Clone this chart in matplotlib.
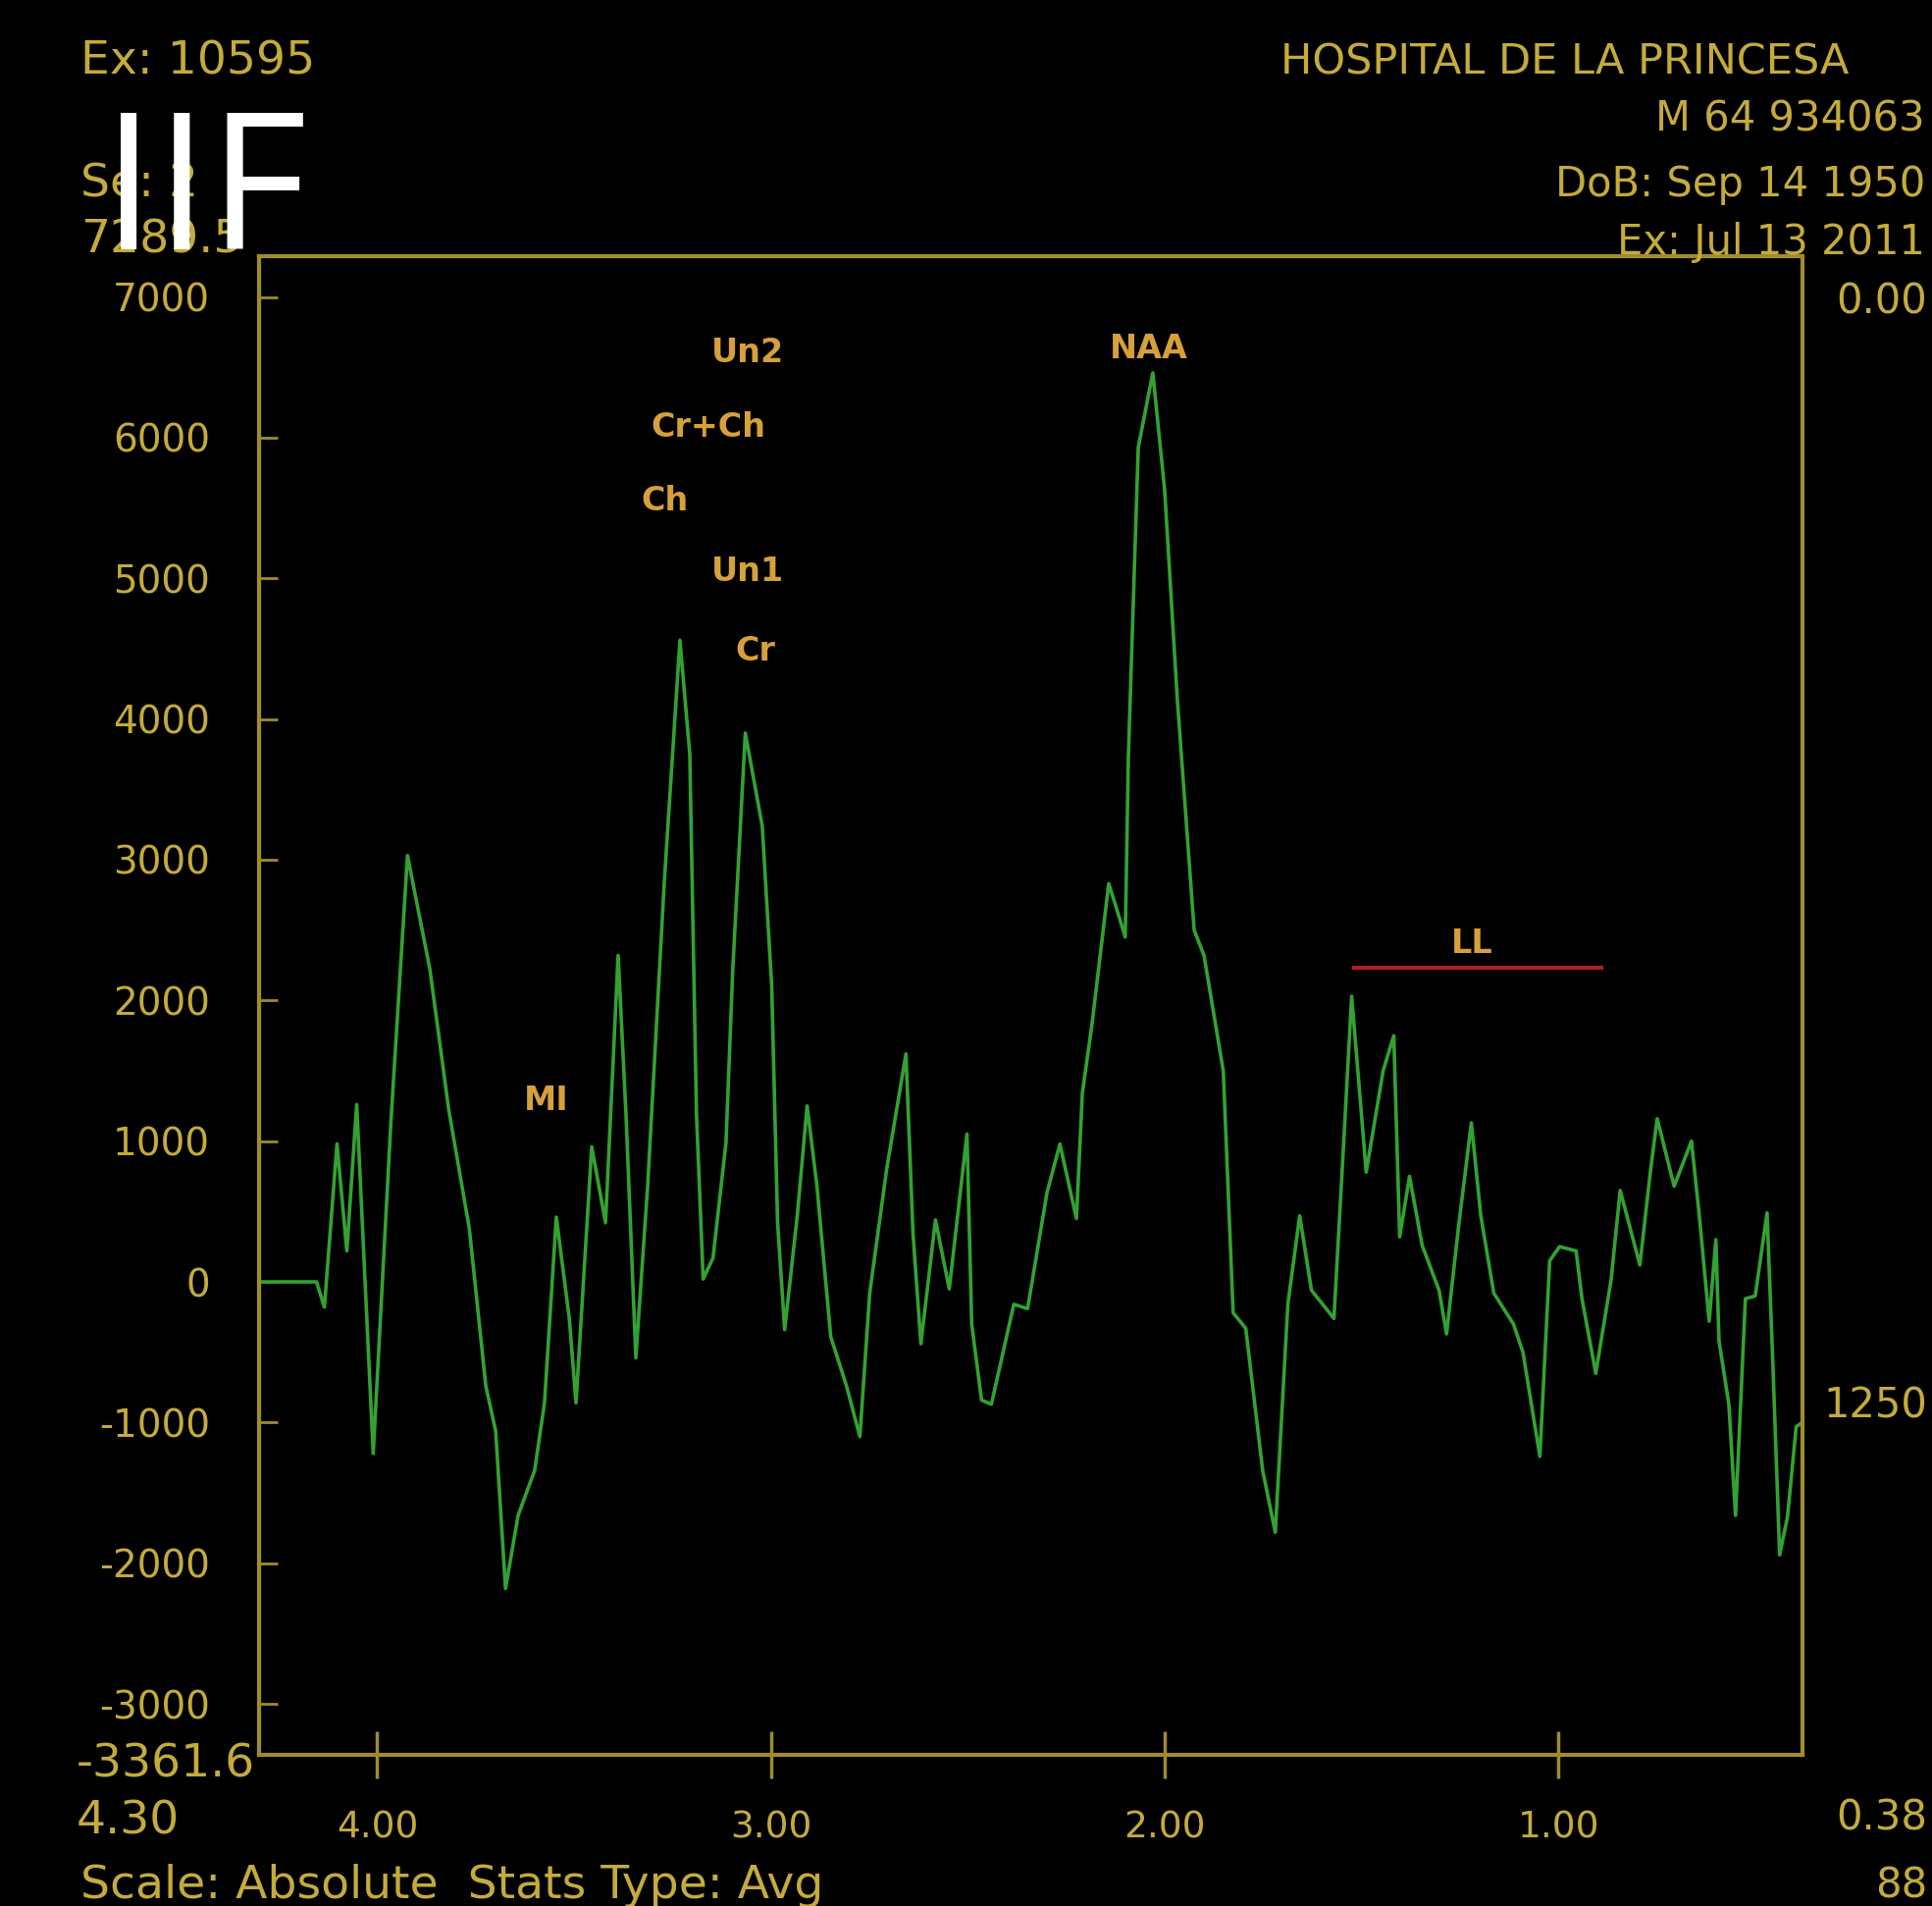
"""MR spectroscopy screenshot (IIF) redrawn with matplotlib."""
import matplotlib

matplotlib.use("Agg")
import matplotlib.pyplot as plt

W, H = 1969, 1942

# spectrum trace: chemical shift (ppm) and amplitude
ppm = [
    4.296, 4.154, 4.134, 4.102, 4.077, 4.052, 4.010, 3.965, 3.923, 3.866,
    3.818, 3.766, 3.724, 3.699, 3.674, 3.642, 3.600, 3.575, 3.545, 3.512,
    3.495, 3.455, 3.420, 3.388, 3.368, 3.343, 3.313, 3.271, 3.231, 3.206,
    3.189, 3.172, 3.147, 3.114, 3.097, 3.065, 3.022, 2.998, 2.983, 2.965,
    2.933, 2.908, 2.883, 2.848, 2.808, 2.774, 2.749, 2.706, 2.657, 2.639,
    2.619, 2.582, 2.547, 2.502, 2.490, 2.465, 2.440, 2.383, 2.348, 2.299,
    2.266, 2.224, 2.209, 2.184, 2.142, 2.124, 2.100, 2.092, 2.067, 2.030,
    2.000, 1.968, 1.925, 1.900, 1.851, 1.826, 1.794, 1.751, 1.719, 1.687,
    1.657, 1.627, 1.570, 1.545, 1.525, 1.488, 1.445, 1.418, 1.403, 1.378,
    1.346, 1.303, 1.284, 1.254, 1.221, 1.197, 1.164, 1.114, 1.090, 1.047,
    1.022, 0.997, 0.955, 0.940, 0.905, 0.866, 0.843, 0.793, 0.766, 0.749,
    0.706, 0.662, 0.642, 0.617, 0.600, 0.592, 0.567, 0.550, 0.525, 0.500,
    0.470, 0.455, 0.438, 0.418, 0.396, 0.381,
]
amp = [
    0, 0, -180, 980, 220, 1260, -1220, 1140, 3030, 2220,
    1220, 380, -740, -1060, -2180, -1660, -1340, -860, 460, -260,
    -860, 960, 420, 2320, 1190, -540, 680, 2830, 4560, 3750,
    1190, 20, 170, 990, 2210, 3900, 3240, 2110, 420, -340,
    470, 1250, 680, -390, -740, -1100, -80, 800, 1620, 340,
    -440, 440, -50, 1050, -300, -840, -870, -160, -190, 630,
    980, 450, 1340, 1840, 2830, 2670, 2450, 3740, 5930, 6460,
    5630, 4150, 2500, 2320, 1500, -220, -330, -1340, -1780, -160,
    470, -60, -260, 1000, 2030, 780, 1500, 1750, 320, 750,
    260, -60, -370, 380, 1130, 470, -80, -300, -500, -1240,
    150, 250, 220, -120, -650, 15, 650, 120, 790, 1160,
    680, 1000, 470, -280, 300, -420, -870, -1660, -120, -100,
    490, -600, -1940, -1670, -1030, -1000,
]

# metabolite labels: text, ppm, amplitude
peak_names = ["Un2", "Cr+Ch", "Ch", "Un1", "Cr", "NAA", "MI", "LL"]
peak_ppm = [3.06, 3.16, 3.27, 3.06, 3.04, 2.04, 3.57, 1.22]
peak_amp = [6600, 6075, 5550, 5050, 4480, 6630, 1285, 2400]

# integration bar drawn in red
bar_ppm = [1.52, 0.89]
bar_amp = [2230, 2230]

y_ticks = [-3000, -2000, -1000, 0, 1000, 2000, 3000, 4000, 5000, 6000, 7000]
x_ticks = [4.0, 3.0, 2.0, 1.0]
x_range = [4.30, 0.38]
y_range = [-3361.6, 7289.5]

GOLD = "#c4ab3c"
FRAME = "#a08c2a"
GREEN = "#33a232"
ORANGE = "#d6a03a"


def fpos(x, y):
    """Pixel position on the screenshot -> figure fraction."""
    return x / W, 1 - y / H


fig = plt.figure(figsize=(W / 100, H / 100), dpi=100, facecolor="black")
ax = fig.add_axes([264 / W, 1 - 1788 / H, (1837 - 264) / W, (1788 - 261) / H])
ax.set_facecolor("black")

ax.plot(ppm, amp, color=GREEN, lw=2.6, solid_joinstyle="round")
ax.plot(bar_ppm, bar_amp, color="#b01e1e", lw=3)
for name, x, y in zip(peak_names, peak_ppm, peak_amp):
    ax.text(x, y, name, color=ORANGE, fontsize=24, ha="center", va="center",
            fontweight="bold")

ax.set_xlim(*x_range)
ax.set_ylim(*y_range)
ax.set_yticks(y_ticks)
ax.set_yticklabels([str(v) for v in y_ticks])
ax.set_xticks(x_ticks)
ax.set_xticklabels([f"{v:.2f}" for v in x_ticks])
ax.tick_params(axis="y", direction="in", length=14, width=2, color=FRAME,
               labelcolor=GOLD, labelsize=28, pad=36)
ax.tick_params(axis="x", direction="inout", length=34, width=2.5, color=FRAME,
               labelcolor=GOLD, labelsize=27, pad=24)
for spine in ax.spines.values():
    spine.set_color(FRAME)
    spine.set_linewidth(3)

# screen annotations around the plot
txt = dict(color=GOLD, fontsize=34, va="center")
side = dict(color=GOLD, fontsize=30, va="center", ha="right")
fig.text(*fpos(82, 63), "Ex: 10595", ha="left", **txt)
fig.text(*fpos(82, 188), "Se: 2", ha="left", **txt)
fig.text(*fpos(82, 245), "7289.5", ha="left", **txt)
fig.text(*fpos(1305, 63), "HOSPITAL DE LA PRINCESA", ha="left",
         color=GOLD, fontsize=31, va="center")
fig.text(*fpos(1962, 122), "M 64 934063", **side)
fig.text(*fpos(1962, 188), "DoB: Sep 14 1950", **side)
fig.text(*fpos(1962, 247), "Ex: Jul 13 2011", **side)
fig.text(*fpos(1964, 308), "0.00", **side)
fig.text(*fpos(1964, 1432), "1250", **side)
fig.text(*fpos(1964, 1852), "0.38", **side)
fig.text(*fpos(1964, 1921), "88", **side)
fig.text(*fpos(78, 1798), "-3361.6", ha="left", **txt)
fig.text(*fpos(78, 1856), "4.30", ha="left", **txt)
fig.text(*fpos(82, 1921), "Scale: Absolute  Stats Type: Avg", ha="left", **txt)

fig.text(*fpos(104, 204), "IIF", color="white", fontsize=140, ha="left",
         va="center", family=["Open Sans", "DejaVu Sans"])

fig.savefig("out.png", dpi=100, facecolor="black")
